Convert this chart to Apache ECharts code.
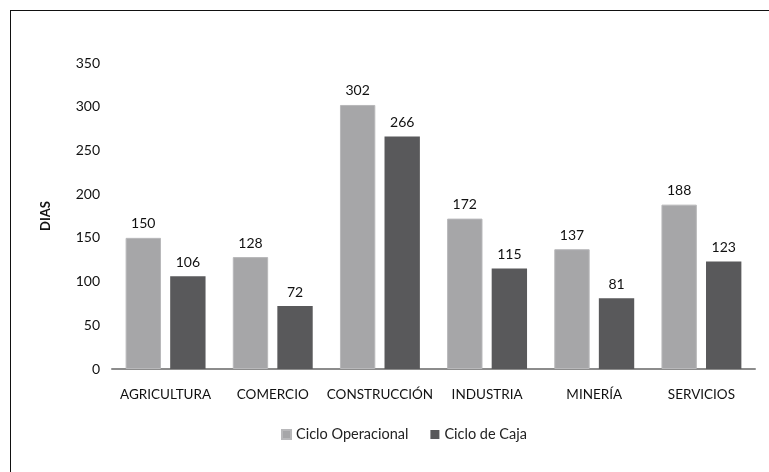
<!DOCTYPE html>
<html>
<head>
<meta charset="utf-8">
<script src="https://cdn.jsdelivr.net/npm/echarts@6/dist/echarts.min.js"></script>
<style>
  body { margin: 0; background: #ffffff; }
  #frame { position: absolute; left: 10px; top: 10px; width: 800px; height: 500px; border: 1px solid #111; box-sizing: border-box; }
  #main { position: absolute; left: 0; top: 0; width: 769px; height: 472px; }
</style>
</head>
<body>
<div id="frame"></div>
<div id="main"></div>
<script>
const sectores = ["AGRICULTURA", "COMERCIO", "CONSTRUCCIÓN", "INDUSTRIA", "MINERÍA", "SERVICIOS"];
const cicloOperacional = [150, 128, 302, 172, 137, 188];
const cicloCaja = [106, 72, 266, 115, 81, 123];

const fontFamily = "Lato, 'Open Sans', sans-serif";
let myChart = echarts.init(document.getElementById("main"));
let option = {
  animation: false,
  textStyle: { fontFamily: fontFamily },
  legend: {
    bottom: 25,
    left: 276,
    itemWidth: 9,
    itemHeight: 9,
    itemGap: 22,
    icon: "rect",
    textStyle: { fontSize: 14.5, color: "#222", fontFamily: fontFamily },
    data: ["Ciclo Operacional", "Ciclo de Caja"]
  },
  grid: { left: 112, right: 14, top: 63, bottom: 103 },
  xAxis: {
    type: "category",
    data: sectores,
    axisLine: { lineStyle: { color: "#8c8c8c", width: 2 } },
    axisTick: { show: false },
    axisLabel: { color: "#111", fontSize: 13.5, margin: 19, interval: 0 }
  },
  yAxis: {
    type: "value",
    min: 0,
    max: 350,
    interval: 50,
    name: "DIAS",
    nameLocation: "middle",
    nameGap: 60,
    nameRotate: 90,
    nameTextStyle: { fontWeight: "bold", fontSize: 13, color: "#111" },
    axisLine: { show: false },
    axisTick: { show: false },
    splitLine: { show: false },
    axisLabel: { color: "#111", fontSize: 14, margin: 12 }
  },
  series: [
    {
      name: "Ciclo Operacional",
      type: "bar",
      data: cicloOperacional,
      barWidth: "33%",
      barGap: "26%",
      itemStyle: { color: "#a6a6a8", borderColor: "#b8b8ba", borderWidth: 1 },
      label: { show: true, position: "top", distance: 7, color: "#111", fontSize: 14 }
    },
    {
      name: "Ciclo de Caja",
      type: "bar",
      data: cicloCaja,
      barWidth: "33%",
      itemStyle: { color: "#59595b" },
      label: { show: true, position: "top", distance: 7, color: "#111", fontSize: 14 }
    }
  ]
};
myChart.setOption(option);
</script>
</body>
</html>
